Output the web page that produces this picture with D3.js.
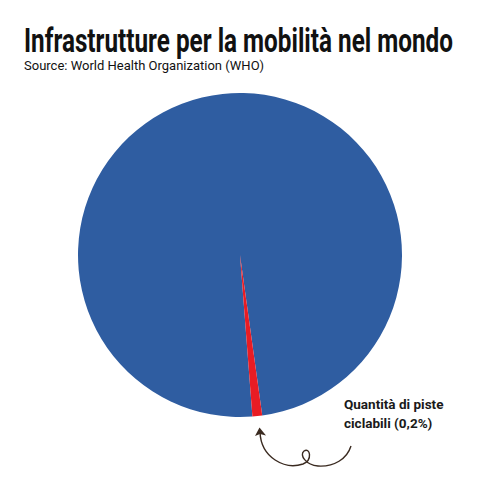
<!DOCTYPE html>
<html>
<head>
<meta charset="utf-8">
<script src="https://cdn.jsdelivr.net/npm/d3@7"></script>
<style>
  html, body { margin: 0; padding: 0; background: #fff; }
</style>
</head>
<body>
<div id="chart"></div>
<script>
// chart data
const categories = ['Strade', 'Piste ciclabili'];
const values = [99.03, 0.97];
const colors = ['#2f5da1', '#e81c24'];
const title = 'Infrastrutture per la mobilità nel mondo';
const source = 'Source: World Health Organization (WHO)';
const labelLines = ['Quantità di piste', 'ciclabili (0,2%)'];

const width = 480;
const height = 480;
const cx = 240, cy = 255, radius = 162;

const svg = d3.select('#chart').append('svg')
  .attr('width', width)
  .attr('height', height)
  .style('font-family', 'Roboto, sans-serif');

// title, squeezed horizontally to look condensed
const titleText = svg.append('text')
  .attr('x', 0)
  .attr('y', 0)
  .style('font-size', '33px')
  .style('font-weight', 700)
  .style('fill', '#111')
  .text(title);
const natural = titleText.node().getComputedTextLength();
titleText.attr('transform', `translate(24, 52) scale(${429 / natural}, 1)`);

svg.append('text')
  .attr('x', 24)
  .attr('y', 70)
  .style('font-size', '13px')
  .style('fill', '#111')
  .text(source);

// pie
const start = 175.6 * Math.PI / 180;
const pie = d3.pie().sort(null)
  .startAngle(start)
  .endAngle(start + 2 * Math.PI);
const arc = d3.arc().innerRadius(0).outerRadius(radius);

const g = svg.append('g')
  .attr('transform', `translate(${cx}, ${cy})`);

g.selectAll('path.slice')
  .data(pie(values))
  .enter().append('path')
  .attr('class', 'slice')
  .attr('d', arc)
  .attr('fill', (d, i) => colors[i]);

// annotation
const label = svg.append('text')
  .attr('x', 344)
  .attr('y', 409)
  .style('font-size', '13.5px')
  .style('font-weight', 700)
  .style('fill', '#1a1a1a');
label.selectAll('tspan')
  .data(labelLines)
  .enter().append('tspan')
  .attr('x', 344)
  .attr('dy', (d, i) => i === 0 ? 0 : 18.5)
  .text(d => d);

svg.append('path')
  .attr('d', 'M351,446 C347,459 334,467 318,466 C306,465 299,455 304,451 C310,447 313,460 303,464 C285,470 261,458 260,432')
  .attr('fill', 'none')
  .attr('stroke', '#3a2a20')
  .attr('stroke-width', 1.4);

svg.append('path')
  .attr('d', 'M259.5,427.5 L255,436 L260,434 L266,435.5 Z')
  .attr('fill', '#3a2a20');
</script>
</body>
</html>
